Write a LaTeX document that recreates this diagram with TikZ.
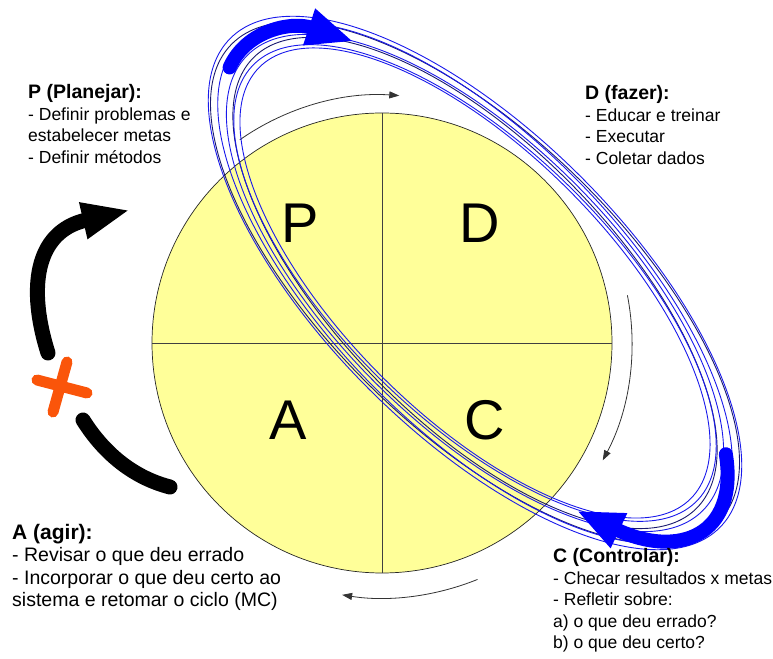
\documentclass[tikz,border=0pt]{standalone}
\usepackage{fontspec}
\setmainfont{Liberation Sans}
\usetikzlibrary{arrows.meta}
\definecolor{pdcafill}{RGB}{255,255,153}
\definecolor{ringblue}{RGB}{25,25,235}
\definecolor{ringnavy}{RGB}{25,25,110}
\definecolor{bandblue}{RGB}{0,0,255}
\definecolor{crossorange}{RGB}{250,85,10}
\begin{document}
\begin{tikzpicture}[x=1pt,y=1pt,
  quad/.style={font=\fontsize{56}{56}\selectfont, inner sep=0pt},
  ring/.style={ringblue, line width=0.9pt},
  darkring/.style={ringnavy, line width=0.9pt},
  band/.style={bandblue, line width=14pt, line cap=round, -{Triangle[length=47pt,width=35pt]}},
  flow/.style={black!80, line width=0.8pt, -{Triangle[length=10pt,width=7pt]}},
  loopline/.style={black, line width=15pt, line cap=round},
  cross/.style={crossorange, line width=11pt, line cap=round},
  notes/.style={anchor=north west, inner sep=0pt, align=left, font=\fontsize{17.5}{21.5}\selectfont},
  bignotes/.style={notes, font=\fontsize{19.5}{22.5}\selectfont},
]
\useasboundingbox (0,0) rectangle (773,658);

% PDCA disc with its four quadrants
\node[circle, minimum size=460pt, inner sep=0pt, outer sep=0pt, fill=pdcafill, draw=black!85, line width=0.7pt] (O) at (382,315) {};
\draw[black!75, line width=0.8pt] (O.north) -- (O.south);
\draw[black!75, line width=0.8pt] (O.west) -- (O.east);
\node[quad] (qp) at (300,435) {P};
\node[quad] (qd) at (480,435) {D};
\node[quad] (qa) at (288,238) {A};
\node[quad] (qc) at (485,238) {C};

% thin arrows running round the disc
\draw[flow] (O) ++(125:248) arc[start angle=125, end angle=86, radius=248];
\draw[flow] (O) ++(11:250) arc[start angle=11, end angle=-28, radius=250];
\draw[flow] (O) ++(-68:255) arc[start angle=-68, end angle=-99, radius=255];

% tilted orbit of rings with two heavy arrows
\coordinate (E) at (475,375);
\begin{scope}[shift={(E)}, rotate=-45]
  \draw[ring] (0,0) ellipse [x radius=346, y radius=150];
  \draw[darkring, rotate=0.6] (0,0) ellipse [x radius=341, y radius=147];
  \draw[ring, rotate=-0.5] (0,0) ellipse [x radius=336, y radius=145];
  \draw[ring] (0,0) ellipse [x radius=322, y radius=141];
  \draw[darkring, rotate=-0.6] (0,0) ellipse [x radius=316, y radius=138];
  \draw[ring, rotate=0.5] (0,0) ellipse [x radius=311, y radius=135];
  \draw[ring] (0,0) ellipse [x radius=305, y radius=132];
  \draw[band] (189:330 and 135) arc[start angle=189, end angle=141, x radius=330, y radius=135];
  \draw[band] (27:335 and 124) arc[start angle=27, end angle=-46, x radius=335, y radius=124];
\end{scope}

% broken loop on the left, interrupted by a cross
\draw[loopline, -{Triangle[length=48pt,width=34pt]}] (48,305) .. controls (28,368) and (34,426) .. (130,448);
\draw[loopline] (83,238) .. controls (105,203) and (135,180) .. (170,171);
\coordinate (X) at (62,271);
\draw[cross] (X) ++(-25,7) -- ++(50,-13);
\draw[cross] (X) ++(5,25) -- ++(-14,-50);

% stage notes
\node[notes] (plan) at (28,573.5) {{\bfseries\fontsize{19.5}{21.5}\selectfont P (Planejar):}\\- Definir problemas e\\estabelecer metas\\- Definir métodos};
\node[notes] (do) at (585,572.5) {{\bfseries\fontsize{19.5}{21.5}\selectfont D (fazer):}\\- Educar e treinar\\- Executar\\- Coletar dados};
\node[bignotes] (act) at (12,134) {{\bfseries\fontsize{21}{22.5}\selectfont A (agir):}\\- Revisar o que deu errado\\- Incorporar o que deu certo ao\\sistema e retomar o ciclo (MC)};
\node[notes] (check) at (553,109.5) {{\bfseries\fontsize{19.5}{21.5}\selectfont C (Controlar):}\\- Checar resultados x metas\\- Refletir sobre:\\a) o que deu errado?\\b) o que deu certo?};
\end{tikzpicture}
\end{document}
